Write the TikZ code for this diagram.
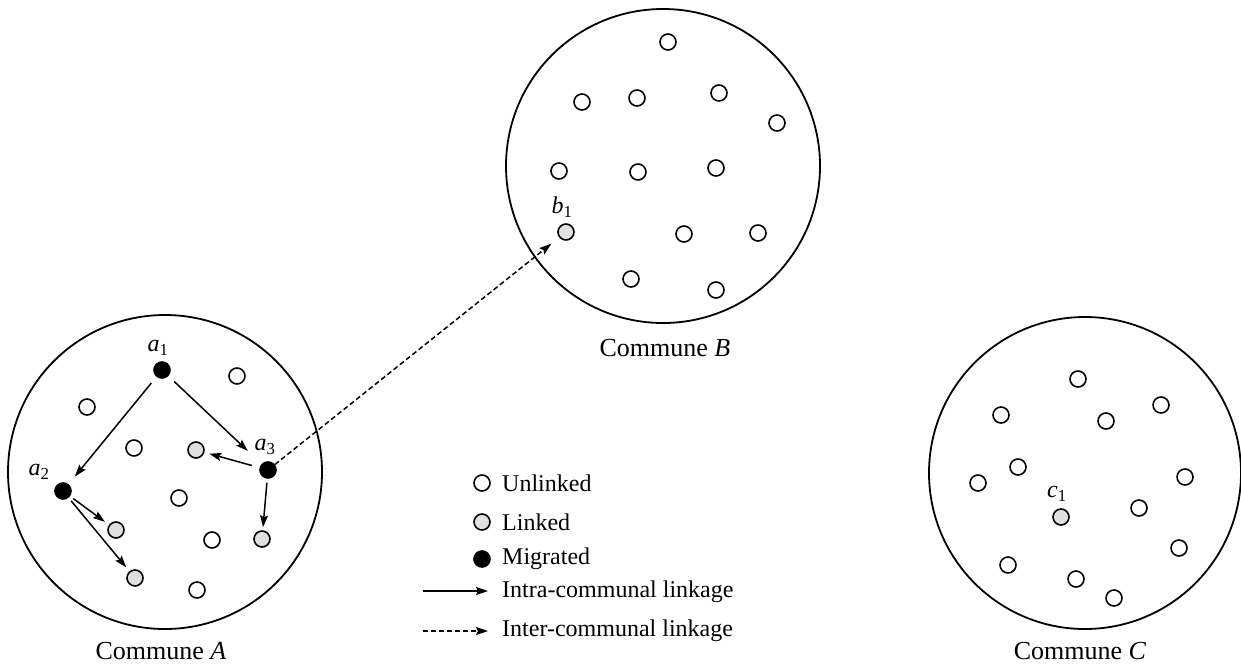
\documentclass[tikz,border=0pt]{standalone}
\usepackage{fontspec}
\setmainfont{Liberation Serif}
\usetikzlibrary{arrows.meta}
\begin{document}
\begin{tikzpicture}[x=1pt,y=-1pt,
  commune/.style={draw,line width=1.8pt,circle,minimum size=#1,inner sep=0pt},
  pt/.style={draw,circle,line width=1.6pt,minimum size=16pt,inner sep=0pt},
  unl/.style={pt,fill=white},
  lnk/.style={pt,fill=black!12},
  mig/.style={pt,fill=black},
  clbl/.style={font=\fontsize{26}{28}\selectfont,inner sep=0pt},
  lbl/.style={font=\fontsize{24}{26}\selectfont,inner sep=0pt},
  txt/.style={font=\fontsize{24}{26}\selectfont,inner sep=0pt,anchor=west},
  arr/.style={line width=1.5pt,-{Stealth[length=12pt,width=8pt,inset=2pt]}},
  darr/.style={arr,dash pattern=on 5pt off 3pt}
]
\useasboundingbox (0,0) rectangle (1241,667);
% communes
\node[commune=314pt] (CA) at (165,472) {};
\node[commune=314pt] (CB) at (663,166) {};
\node[commune=312pt] (CC) at (1085,473) {};
\node[clbl] (LA) at (161,651) {Commune \textit{A}};
\node[clbl] (LB) at (665,348) {Commune \textit{B}};
\node[clbl] (LC) at (1080,651) {Commune \textit{C}};
% commune A
\node[mig] (a1) at (162,370) {};
\node[unl] (A1) at (237,376) {};
\node[unl] (A2) at (87,407) {};
\node[unl] (A3) at (134,448) {};
\node[lnk] (A4) at (196,450) {};
\node[mig] (a3) at (268,470) {};
\node[mig] (a2) at (63,491) {};
\node[unl] (A5) at (179,498) {};
\node[lnk] (A6) at (116,530) {};
\node[unl] (A7) at (212,540) {};
\node[lnk] (A8) at (262,539) {};
\node[lnk] (A9) at (135,578) {};
\node[unl] (A10) at (197,590) {};
\node[lbl] (la1) at (158,348) {\textit{a}\textsubscript{1}};
\node[lbl] (la3) at (265,447) {\textit{a}\textsubscript{3}};
\node[lbl] (la2) at (39,472) {\textit{a}\textsubscript{2}};
% commune B
\node[unl] (B1) at (668,42) {};
\node[unl] (B2) at (582,102) {};
\node[unl] (B3) at (637,98) {};
\node[unl] (B4) at (719,93) {};
\node[unl] (B5) at (777,123) {};
\node[unl] (B6) at (559,171) {};
\node[unl] (B7) at (638,172) {};
\node[unl] (B8) at (716,168) {};
\node[lnk] (b1) at (566,232) {};
\node[unl] (B9) at (684,234) {};
\node[unl] (B10) at (758,233) {};
\node[unl] (B11) at (631,279) {};
\node[unl] (B12) at (716,290) {};
\node[lbl] (lb1) at (562,207) {\textit{b}\textsubscript{1}};
% commune C
\node[unl] (C1) at (1078,379) {};
\node[unl] (C2) at (1001,415) {};
\node[unl] (C3) at (1106,421) {};
\node[unl] (C4) at (1161,405) {};
\node[unl] (C5) at (1018,467) {};
\node[unl] (C6) at (978,483) {};
\node[unl] (C7) at (1185,477) {};
\node[lnk] (c1) at (1061,517) {};
\node[unl] (C8) at (1139,508) {};
\node[unl] (C9) at (1179,548) {};
\node[unl] (C10) at (1008,565) {};
\node[unl] (C11) at (1076,579) {};
\node[unl] (C12) at (1114,598) {};
\node[lbl] (lc1) at (1057,494) {\textit{c}\textsubscript{1}};
% arrows
\draw[arr,shorten <=8pt,shorten >=10pt] (a1) -- (a2);
\draw[arr,shorten <=8pt,shorten >=19pt] (a1) -- (a3);
\draw[arr,shorten <=8pt,shorten >=5pt] (a3) -- (A4);
\draw[arr,shorten <=4pt,shorten >=3pt] (a3) -- (A8);
\draw[arr,shorten <=4pt,shorten >=5pt] (a2) -- (A6);
\draw[arr,shorten <=4pt,shorten >=5pt] (a2) -- (A9);
\draw[darr,shorten >=10pt] (a3) -- (b1);
% legend
\node[unl] (k1) at (482,483) {};
\node[lnk] (k2) at (482,522) {};
\node[mig] (k3) at (482,559) {};
\node[txt] (t1) at (502,483) {Unlinked};
\node[txt] (t2) at (502,522) {Linked};
\node[txt] (t3) at (502,559) {Migrated};
\coordinate (s1) at (423,591);
\coordinate (e1) at (488,591);
\coordinate (s2) at (423,631);
\coordinate (e2) at (488,631);
\draw[arr] (s1) -- (e1);
\draw[darr] (s2) -- (e2);
\node[txt] (t4) at (502,592) {Intra-communal linkage};
\node[txt] (t5) at (502,631) {Inter-communal linkage};
\end{tikzpicture}
\end{document}
